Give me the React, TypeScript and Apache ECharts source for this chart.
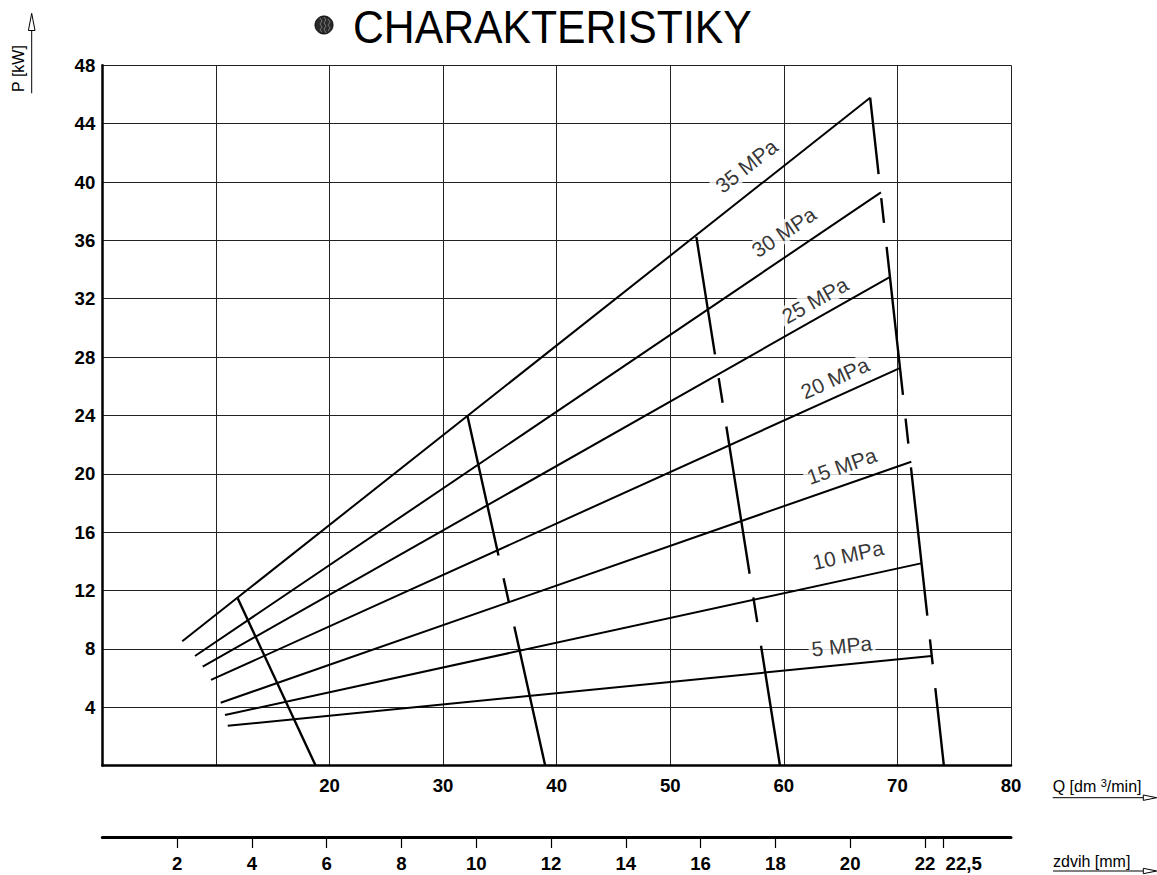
import React, { useEffect, useRef } from 'react';
import * as echarts from 'echarts';

// ---- data ----
const pressureNames = ['35 MPa', '30 MPa', '25 MPa', '20 MPa', '15 MPa', '10 MPa', '5 MPa'];
const pressureStartQ = [7.04, 8.16, 8.84, 9.57, 10.42, 10.8, 11.04];
const pressureStartP = [8.52, 7.51, 6.78, 5.87, 4.31, 3.47, 2.73];
const pressureEndQ = [67.6, 68.55, 69.28, 70.16, 71.22, 72.07, 73.01];
const pressureEndP = [45.78, 39.29, 33.47, 27.23, 20.83, 13.86, 7.51];

// label anchor (centre) for each pressure curve
const labelQ = [56.71, 60.0, 62.74, 64.5, 65.1, 65.65, 65.1];
const labelP = [41.1, 36.57, 31.9, 26.56, 20.53, 14.44, 8.2];

// limit lines (top point -> bottom point at P = 0)
const limitTopQ = [11.92, 32.14, 52.3, 67.6];
const limitTopP = [11.47, 24.0, 36.24, 45.78];
const limitBottomQ = [18.78, 38.99, 59.66, 74.09];
const limitBottomP = [0, 0, 0, 0];

const qMin = 0;
const qMax = 80;
const qInterval = 10;
const qFirstLabel = 20;
const pMin = 0;
const pMax = 48;
const pInterval = 4;
const zdvihMax = 24.3;
const zdvihTicks = [2, 4, 6, 8, 10, 12, 14, 16, 18, 20, 22, 22.5];

// ---- layout ----
const W = 1157;
const H = 875;
const X0 = 102.3;
const X1 = 1011;
const Y0 = 765.6;
const Y1 = 65.3;

const NARROW = '"Liberation Sans Narrow", "Liberation Sans", Arial, sans-serif';
const SANS = '"Liberation Sans", Arial, sans-serif';

// dash patterns for the limit lines (long, gap, short, gap)
const limitDash: (number[] | null)[] = [null, [143.5, 23.3, 25.2, 24.3], [149, 24, 25, 24], [149, 24, 25, 24]];
const limitDashOffset = [0, 0, 30, 72];

function measure(text: string, font: string): number {
  const c = document.createElement('canvas').getContext('2d');
  if (!c) return text.length * 8;
  c.font = font;
  return c.measureText(text).width;
}

export default function App() {
  const ref = useRef<HTMLDivElement>(null);
  useEffect(() => {
    if (!ref.current) return;
    const chart = echarts.init(ref.current, null, { renderer: 'svg', width: W, height: H });

    const pxPerQ = (X1 - X0) / (qMax - qMin);
    const pxPerP = (Y0 - Y1) / (pMax - pMin);
    const angles = pressureNames.map((_, i) => {
      const dx = (pressureEndQ[i] - pressureStartQ[i]) * pxPerQ;
      const dy = (pressureEndP[i] - pressureStartP[i]) * pxPerP;
      return (Math.atan2(dy, dx) * 180) / Math.PI;
    });

    const series: any[] = [];
    pressureNames.forEach((name, i) => {
      series.push({
        type: 'line',
        name,
        xAxisIndex: 0,
        yAxisIndex: 0,
        symbol: 'none',
        silent: true,
        data: [
          [pressureStartQ[i], pressureStartP[i]],
          [pressureEndQ[i], pressureEndP[i]],
        ],
        lineStyle: { color: '#000', width: 2 },
      });
    });
    limitTopQ.forEach((_, i) => {
      series.push({
        type: 'line',
        xAxisIndex: 0,
        yAxisIndex: 0,
        symbol: 'none',
        silent: true,
        data: [
          [limitTopQ[i], limitTopP[i]],
          [limitBottomQ[i], limitBottomP[i]],
        ],
        lineStyle: {
          color: '#000',
          width: 2.4,
          type: limitDash[i] ? limitDash[i] : 'solid',
          dashOffset: limitDashOffset[i],
          cap: 'butt',
        },
      });
    });
    series.push({
      type: 'scatter',
      xAxisIndex: 0,
      yAxisIndex: 0,
      symbolSize: 1,
      silent: true,
      itemStyle: { color: 'rgba(0,0,0,0)' },
      data: pressureNames.map((n, i) => ({
        name: n,
        value: [labelQ[i], labelP[i]],
        label: { rotate: angles[i] },
      })),
      label: {
        show: true,
        position: 'inside',
        formatter: '{b}',
        fontSize: 21,
        fontFamily: SANS,
        color: '#000',
        backgroundColor: '#fff',
        padding: [0, 3],
      },
      z: 5,
    });

    const arrowHead = (pts: number[][]) => ({
      type: 'polygon',
      shape: { points: pts },
      style: { fill: '#fff', stroke: '#000', lineWidth: 1 },
    });

    // axis-name pieces for "Q [dm ³/min]"
    const qx = 1052.7;
    const wQ1 = measure('Q [dm ', '16px "Liberation Sans"');
    const wQ3 = measure('3', '11px "Liberation Sans"');

    const option: any = {
      animation: false,
      backgroundColor: '#fff',
      grid: [
        { left: X0, top: Y1, width: X1 - X0, height: Y0 - Y1 },
        { left: X0, top: 836, width: X1 - X0, height: 1 },
      ],
      xAxis: [
        {
          type: 'value',
          gridIndex: 0,
          min: qMin,
          max: qMax,
          interval: qInterval,
          axisLine: { show: true, onZero: false, lineStyle: { color: '#000', width: 2.5 } },
          axisTick: { show: false },
          splitLine: { show: true, lineStyle: { color: '#222', width: 1 } },
          axisLabel: {
            formatter: (v: number) => (v >= qFirstLabel ? String(v) : ''),
            margin: 10,
            color: '#000',
            fontWeight: 'bold',
            fontSize: 18.6,
            fontFamily: NARROW,
          },
        },
        {
          type: 'value',
          gridIndex: 1,
          min: 0,
          max: zdvihMax,
          axisLine: { show: true, onZero: false, lineStyle: { color: '#000', width: 3 } },
          axisTick: { show: true, length: 11, customValues: zdvihTicks, lineStyle: { color: '#000', width: 1.2 } },
          splitLine: { show: false },
          axisLabel: {
            customValues: zdvihTicks,
            showMinLabel: true,
            showMaxLabel: true,
            hideOverlap: false,
            formatter: (v: number) =>
              Number.isInteger(v) ? String(v) : '{r|' + String(v).replace('.', ',') + '}',
            margin: 17,
            color: '#000',
            fontWeight: 'bold',
            fontSize: 18.6,
            fontFamily: NARROW,
            rich: {
              r: {
                padding: [0, 0, 0, 40],
                color: '#000',
                fontWeight: 'bold',
                fontSize: 18.6,
                fontFamily: NARROW,
              },
            },
          },
        },
      ],
      yAxis: [
        {
          type: 'value',
          gridIndex: 0,
          min: pMin,
          max: pMax,
          interval: pInterval,
          axisLine: { show: true, onZero: false, lineStyle: { color: '#000', width: 2.5 } },
          axisTick: { show: false },
          splitLine: { show: true, lineStyle: { color: '#222', width: 1 } },
          axisLabel: {
            formatter: (v: number) => (v === 0 ? '' : String(v)),
            margin: 7,
            color: '#000',
            fontWeight: 'bold',
            fontSize: 18.6,
            fontFamily: NARROW,
          },
        },
        { type: 'value', gridIndex: 1, show: false, min: 0, max: 1 },
      ],
      series,
      graphic: [
        {
          type: 'circle',
          shape: { cx: 324, cy: 25, r: 9 },
          style: { fill: '#2a2a2a', stroke: '#000', lineWidth: 1 },
        },
        {
          type: 'polyline',
          shape: { points: [[320, 18], [322, 21], [320, 24], [322, 27], [320, 30], [322, 32]] },
          style: { stroke: '#888', lineWidth: 0.8, fill: 'none' },
        },
        {
          type: 'polyline',
          shape: { points: [[324, 17], [326, 20], [324, 23], [326, 26], [324, 29], [326, 33]] },
          style: { stroke: '#888', lineWidth: 0.8, fill: 'none' },
        },
        {
          type: 'polyline',
          shape: { points: [[328, 19], [330, 22], [328, 25], [330, 28], [328, 31]] },
          style: { stroke: '#888', lineWidth: 0.8, fill: 'none' },
        },
        {
          type: 'text',
          x: 353,
          y: 26.5,
          scaleX: 0.909,
          style: {
            text: 'CHARAKTERISTIKY',
            fontSize: 47,
            fontFamily: SANS,
            fill: '#000',
            align: 'left',
            verticalAlign: 'middle',
          },
        },
        {
          type: 'text',
          x: 18.5,
          y: 68.5,
          rotation: Math.PI / 2,
          style: {
            text: 'P [kW]',
            fontSize: 16,
            fontFamily: SANS,
            fill: '#000',
            align: 'center',
            verticalAlign: 'middle',
          },
        },
        {
          type: 'line',
          shape: { x1: 31.7, y1: 93.3, x2: 31.7, y2: 30.5 },
          style: { stroke: '#000', lineWidth: 1 },
        },
        arrowHead([[31.7, 13.3], [28.4, 30.5], [35, 30.5]]),
        {
          type: 'text',
          x: qx,
          y: 786.5,
          style: {
            text: 'Q [dm ',
            fontSize: 16,
            fontFamily: SANS,
            fill: '#000',
            align: 'left',
            verticalAlign: 'middle',
          },
        },
        {
          type: 'text',
          x: qx + wQ1,
          y: 782.5,
          style: {
            text: '3',
            fontSize: 11,
            fontFamily: SANS,
            fill: '#000',
            align: 'left',
            verticalAlign: 'middle',
          },
        },
        {
          type: 'text',
          x: qx + wQ1 + wQ3,
          y: 786.5,
          style: {
            text: '/min]',
            fontSize: 16,
            fontFamily: SANS,
            fill: '#000',
            align: 'left',
            verticalAlign: 'middle',
          },
        },
        {
          type: 'line',
          shape: { x1: qx, y1: 797.7, x2: 1143.3, y2: 797.7 },
          style: { stroke: '#000', lineWidth: 1 },
        },
        arrowHead([[1143.3, 795], [1156.7, 797.7], [1143.3, 800.4]]),
        {
          type: 'text',
          x: 1053,
          y: 861,
          style: {
            text: 'zdvih [mm]',
            fontSize: 16,
            fontFamily: SANS,
            fill: '#000',
            align: 'left',
            verticalAlign: 'middle',
          },
        },
        {
          type: 'line',
          shape: { x1: 1053, y1: 871, x2: 1143.3, y2: 871 },
          style: { stroke: '#000', lineWidth: 1 },
        },
        arrowHead([[1143.3, 868.3], [1156.7, 871], [1143.3, 873.7]]),
      ],
    };
    chart.setOption(option);
    return () => chart.dispose();
  }, []);
  return (
    <div
      ref={ref}
      style={{ position: 'fixed', left: 0, top: 0, width: W, height: H, background: '#fff' }}
    />
  );
}
